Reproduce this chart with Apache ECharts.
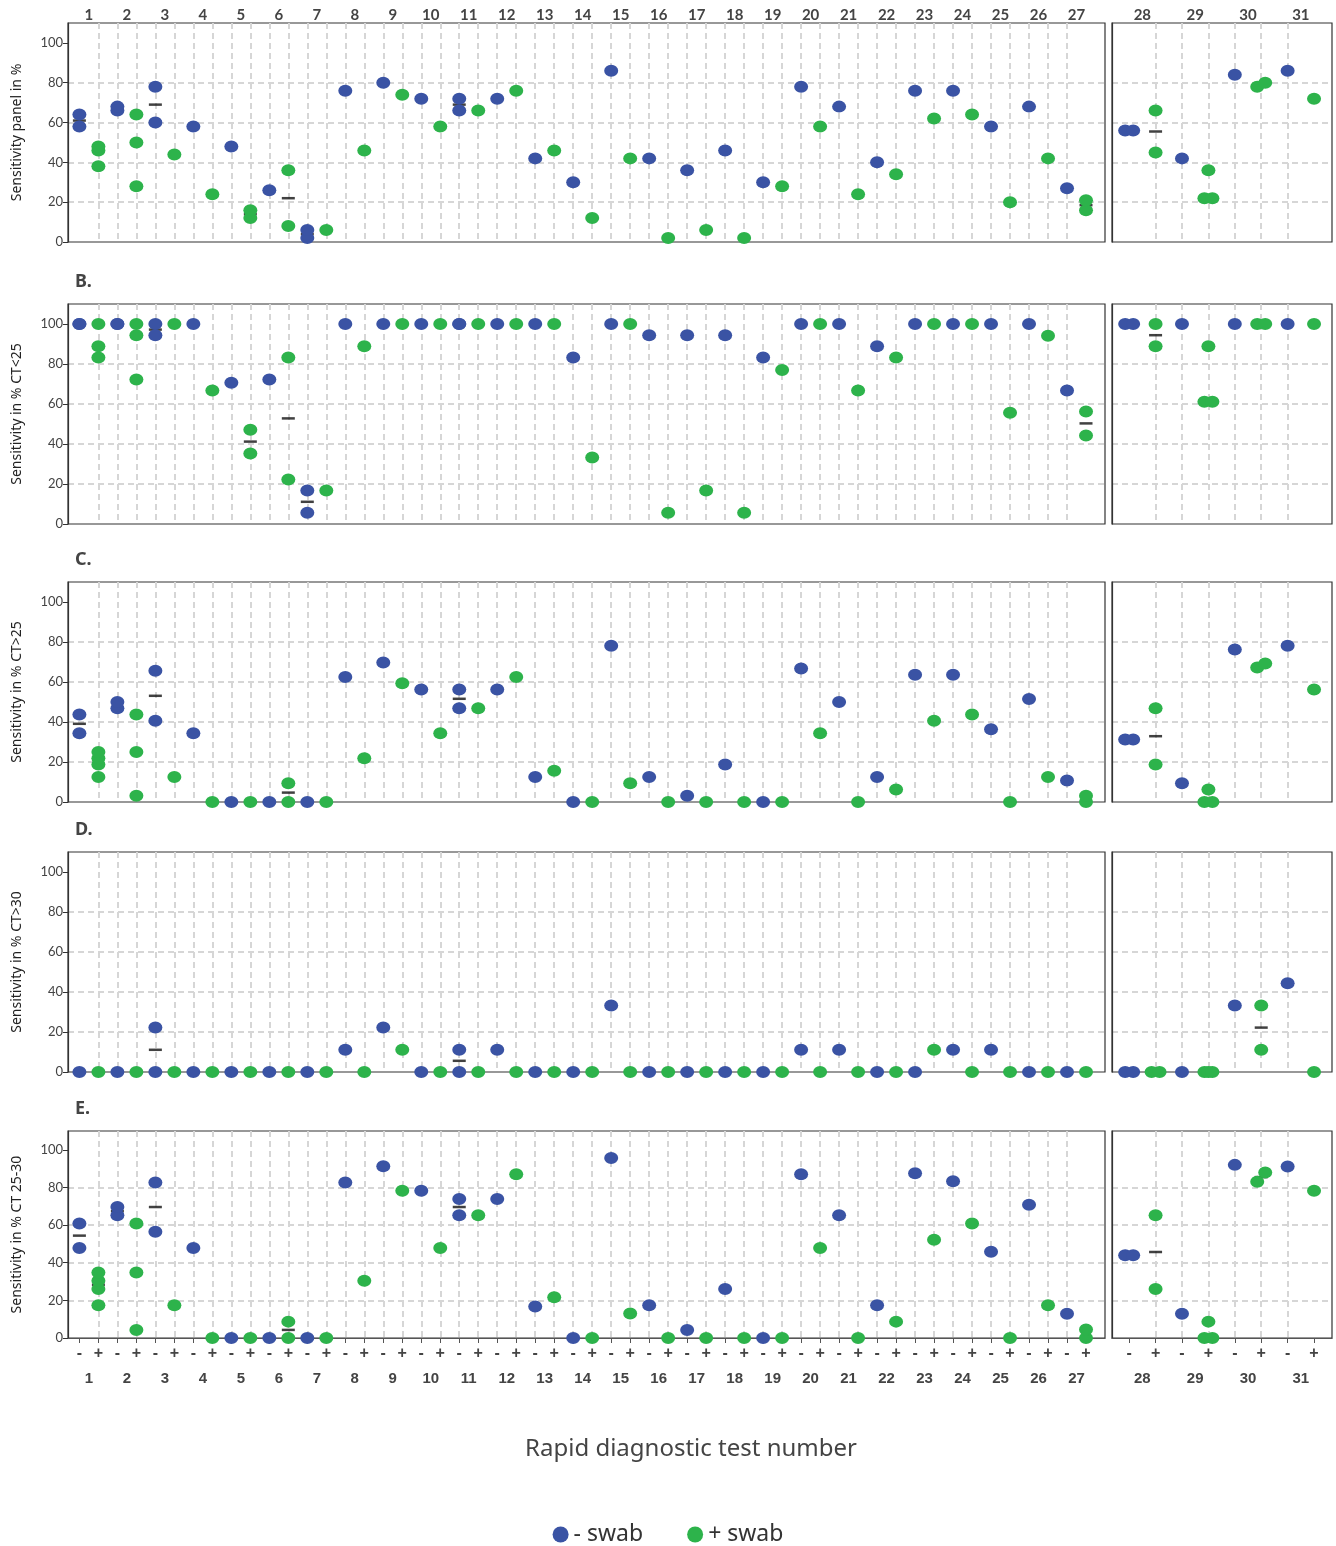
<!DOCTYPE html>
<html><head><meta charset="utf-8">
<script src="https://cdn.jsdelivr.net/npm/echarts@6/dist/echarts.min.js"></script>
<style>html,body{margin:0;padding:0;background:#fff}#c{width:1336px;height:1546px}</style>
</head><body><div id="c"></div>
<script>
// ---------- DATA ----------
const testLabels = ['1','2','3','4','5','6','7','8','9','10','11','12','13','14','15','16','17','18','19','20','21','22','23','24','25','26','27','28','29','30','31'];
const yTicks = [0,20,40,60,80,100];
const yNames = ['Sensitivity panel in %','Sensitivity in % CT<25','Sensitivity in % CT>25','Sensitivity in % CT>30','Sensitivity in % CT 25-30'];
const panelLetters = ['', 'B.', 'C.', 'D.', 'E.'];
const legendNames = ['- swab', '+ swab'];

// Panel A (all samples) : values per test 1..31
const aNeg = [[64,58],[68,66],[78,60],[58],[48],[26],[6,2],[76],[80],[72],[72,66],[72],[42],[30],[86],[42],[36],[46],[30],[78],[68],[40],[76],[76],[58],[68],[27],[56,56],[42],[84],[86]];
const aPos = [[48,46,38],[64,50,28],[44],[24],[16,12],[36,8],[6],[46],[74],[58],[66],[76],[46],[12],[42],[2],[6],[2],[28],[58],[24],[34],[62],[64],[20],[42],[21,16],[66,45],[36,22,22],[78,80],[72]];
const aMed = [[1,'-',61],[3,'-',69],[5,'+',14],[6,'+',22],[7,'-',4],[11,'-',69],[27,'+',18.5],[28,'+',55.5]];

// Panel B (CT<25)
const bNeg = [[100,100],[100,100],[100,94.4],[100],[70.6],[72.2],[16.7,5.6],[100],[100],[100],[100,100],[100],[100],[83.3],[100],[94.4],[94.4],[94.4],[83.3],[100],[100],[88.9],[100],[100],[100],[100],[66.7],[100,100],[100],[100],[100]];
const bPos = [[100,88.9,83.3],[100,94.4,72.2],[100],[66.7],[47.1,35.3],[83.3,22.2],[16.7],[88.9],[100],[100],[100],[100],[100],[33.3],[100],[5.6],[16.7],[5.6],[77],[100],[66.7],[83.3],[100],[100],[55.6],[94.1],[56.3,44.3],[100,88.9],[88.9,61.1,61.1],[100,100],[100]];
const bMed = [[3,'-',97.2],[5,'+',41.2],[6,'+',52.8],[7,'-',11.1],[27,'+',50.3],[28,'+',94.4]];

// Panel C (CT>25)
const cNeg = [[43.8,34.4],[50,46.9],[65.6,40.6],[34.4],[0],[0],[0],[62.5],[69.7],[56.3],[56.3,46.9],[56.3],[12.5],[0],[78.1],[12.5],[3.1],[18.8],[0],[66.7],[50],[12.5],[63.6],[63.6],[36.4],[51.5],[10.7],[31.3,31.3],[9.4],[76.3],[78.1]];
const cPos = [[25,21.9,18.8,12.5],[43.8,25,3.1],[12.5],[0],[0],[9.4,0],[0],[21.9],[59.4],[34.4],[46.9],[62.5],[15.6],[0],[9.4],[0],[0],[0],[0],[34.4],[0],[6.3],[40.6],[43.8],[0],[12.5],[3.1,0],[46.9,18.8],[6.3,0,0],[67.3,69.2],[56.3]];
const cMed = [[1,'-',39.1],[3,'-',53.1],[6,'+',4.7],[11,'-',51.6],[28,'+',32.9]];

// Panel D (CT>30)
const dNeg = [[0],[0],[22.2,0],[0],[0],[0],[0],[11.1],[22.2],[0],[11.1,0],[11.1],[0],[0],[33.3],[0],[0],[0],[0],[11.1],[11.1],[0],[0],[11.1],[11.1],[0],[0],[0,0],[0],[33.3],[44.4]];
const dPos = [[0],[0],[0],[0],[0],[0],[0],[0],[11.1],[0],[0],[0],[0],[0],[0],[0],[0],[0],[0],[0],[0],[0],[11.1],[0],[0],[0],[0],[0,0],[0,0,0],[33.3,11.1],[0]];
const dMed = [[3,'-',11.1],[11,'-',5.6],[30,'+',22.2]];

// Panel E (CT 25-30)
const eNeg = [[60.9,47.8],[69.6,65.2],[82.6,56.5],[47.8],[0],[0],[0],[82.6],[91.3],[78.3],[73.9,65.2],[73.9],[16.7],[0],[95.7],[17.4],[4.3],[26.1],[0],[87],[65.2],[17.4],[87.5],[83.3],[45.8],[70.8],[12.9],[44,44],[12.9],[92],[91.1]];
const ePos = [[34.8,30.4,26.1,17.4],[60.9,34.8,4.3],[17.4],[0],[0],[8.7,0],[0],[30.4],[78.3],[47.8],[65.2],[87],[21.7],[0],[13],[0],[0],[0],[0],[47.8],[0],[8.7],[52.2],[60.9],[0],[17.4],[4.5,0],[65.2,26.1],[8.7,0,0],[83,88],[78.3]];
const eMed = [[1,'-',54.4],[1,'+',28.3],[2,'-',67.4],[3,'-',69.6],[6,'+',4.3],[11,'-',69.6],[28,'+',45.7],[30,'+',85.5]];

const panels = [[aNeg,aPos,aMed],[bNeg,bPos,bMed],[cNeg,cPos,cMed],[dNeg,dPos,dMed],[eNeg,ePos,eMed]];

// ---------- LAYOUT / STYLE ----------
const BLUE = '#3a53a4', GREEN = '#2db34b';
const rows = [[23,219],[304,220],[582,220],[852,220],[1131,207]];
const cols = [{left:68,width:1037,min:0.4,max:55,first:0,last:27},{left:1112,width:220,min:0.35,max:8.68,first:27,last:31}];
const gridLine = {show:true, showMinLine:false, showMaxLine:false, lineStyle:{type:[6,4], color:'#d6d6d6', width:2}};

function slotsFor(c){ const n=(cols[c].last-cols[c].first)*2; const a=[]; for(let i=1;i<=n;i++)a.push(i); return a; }
function centersFor(c){ return slotsFor(c).filter(s=>s%2===1).map(s=>s+0.5); }

function addPoints(out, slot, vals, dodge){
  const s = vals.slice().sort((a,b)=>a-b);
  let i=0;
  while(i<s.length){
    let j=i;
    while(dodge && j+1<s.length && s[j+1]-s[i]<6) j++;
    const n=j-i+1;
    for(let k=i;k<=j;k++){
      const dx = n>1 ? -4 + 8*(k-i)/(n-1) : 0;
      out.push({value:[slot, s[k]], symbolOffset:[dx,0]});
    }
    i=j+1;
  }
}

const grids=[], xAxes=[], yAxes=[], series=[];
rows.forEach((rw,r)=>{
  cols.forEach((cl,c)=>{
    const gi = r*2+c;
    grids.push({left:cl.left, top:rw[0], width:cl.width, height:rw[1], show:true, borderColor:'#333', borderWidth:1.2, backgroundColor:'transparent', outerBoundsMode:'none', containLabel:false});
    const slots = slotsFor(c), centers = centersFor(c);
    let axisLabel = {show:false};
    if(r===0) axisLabel = {show:true, customValues:centers, formatter:v=>testLabels[Math.round((v-1.5)/2)+cl.first], margin:0, fontSize:15, fontWeight:'bold', color:'#444', fontFamily:'Lato'};
    if(r===4) axisLabel = {show:true, customValues:slots, formatter:v=>(Math.round(v)%2===1?'-':'+'), margin:8, fontSize:16, fontWeight:'bold', color:'#444', fontFamily:'Liberation Sans'};
    xAxes.push({type:'value', gridIndex:gi, min:cl.min, max:cl.max, position:r===0?'top':'bottom',
      axisLine:{show:r===4, onZero:false, lineStyle:{color:'#555', width:1.2}},
      axisTick:{show:r===4, customValues:slots, length:5, lineStyle:{color:'#555'}},
      splitLine:gridLine, axisLabel:axisLabel});
    yAxes.push({type:'value', gridIndex:gi, min:0, max:110,
      axisLine:{show:true, lineStyle:{color:'#333', width:1.2}},
      axisTick:{show:c===0, customValues:yTicks, length:5, lineStyle:{color:'#333'}},
      axisLabel:{show:c===0, customValues:yTicks, color:'#444', fontSize:13, margin:5, fontFamily:'Lato'},
      splitLine:gridLine,
      name:c===0?yNames[r]:'', nameLocation:'middle', nameGap:44,
      nameTextStyle:{fontSize:14, color:'#222', fontFamily:'Noto Sans'}});

    const [neg,pos,med] = panels[r];
    const blue=[], green=[], meds=[];
    for(let t=cl.first;t<cl.last;t++){
      const s = 2*(t-cl.first)+1;
      addPoints(blue, s, neg[t], c===1);
      addPoints(green, s+1, pos[t], c===1);
    }
    med.forEach(m=>{
      const t=m[0]-1;
      if(t>=cl.first && t<cl.last){
        const s = 2*(t-cl.first)+1 + (m[1]==='+'?1:0);
        meds.push([s, m[2]]);
      }
    });
    series.push({type:'scatter', name:'median', xAxisIndex:gi, yAxisIndex:gi, data:meds, symbol:'rect', symbolSize:[13,2.5], itemStyle:{color:'#111'}, z:2, silent:true});
    series.push({type:'scatter', name:legendNames[0], xAxisIndex:gi, yAxisIndex:gi, data:blue, symbol:'circle', symbolSize:[14,12], itemStyle:{color:BLUE, opacity:1}, z:3});
    series.push({type:'scatter', name:legendNames[1], xAxisIndex:gi, yAxisIndex:gi, data:green, symbol:'circle', symbolSize:[14,12], itemStyle:{color:GREEN, opacity:1}, z:3});
  });
});
// second label row (test numbers) under panel E
cols.forEach((cl,c)=>{
  xAxes.push({type:'value', gridIndex:8+c, min:cl.min, max:cl.max, position:'bottom',
    axisLine:{show:false}, axisTick:{show:false, customValues:centersFor(c)}, splitLine:{show:false},
    axisLabel:{show:true, customValues:centersFor(c), formatter:v=>testLabels[Math.round((v-1.5)/2)+cl.first], margin:33, fontSize:15, fontWeight:'bold', color:'#444', fontFamily:'Liberation Sans'}});
});

const graphic = [];
panelLetters.forEach((L,r)=>{ if(L) graphic.push({type:'text', x:75, y:rows[r][0]-31, style:{text:L, fontSize:18, fontWeight:'bold', fill:'#444', fontFamily:'Noto Sans'}}); });
graphic.push({type:'text', x:691, y:1437, style:{text:'Rapid diagnostic test number', textAlign:'center', fontSize:24, fill:'#444', fontFamily:'Noto Sans'}});

const chart = echarts.init(document.getElementById('c'), null, {renderer:'canvas'});
chart.setOption({
  animation:false,
  backgroundColor:'#fff',
  grid:grids, xAxis:xAxes, yAxis:yAxes, series:series, graphic:graphic,
  legend:{data:[{name:legendNames[0], icon:'circle'},{name:legendNames[1], icon:'circle'}], left:'center', top:1518, itemWidth:16, itemHeight:16, itemGap:44, selectedMode:false,
    textStyle:{fontSize:23, color:'#333', fontFamily:'Noto Sans'}}
});
</script></body></html>
